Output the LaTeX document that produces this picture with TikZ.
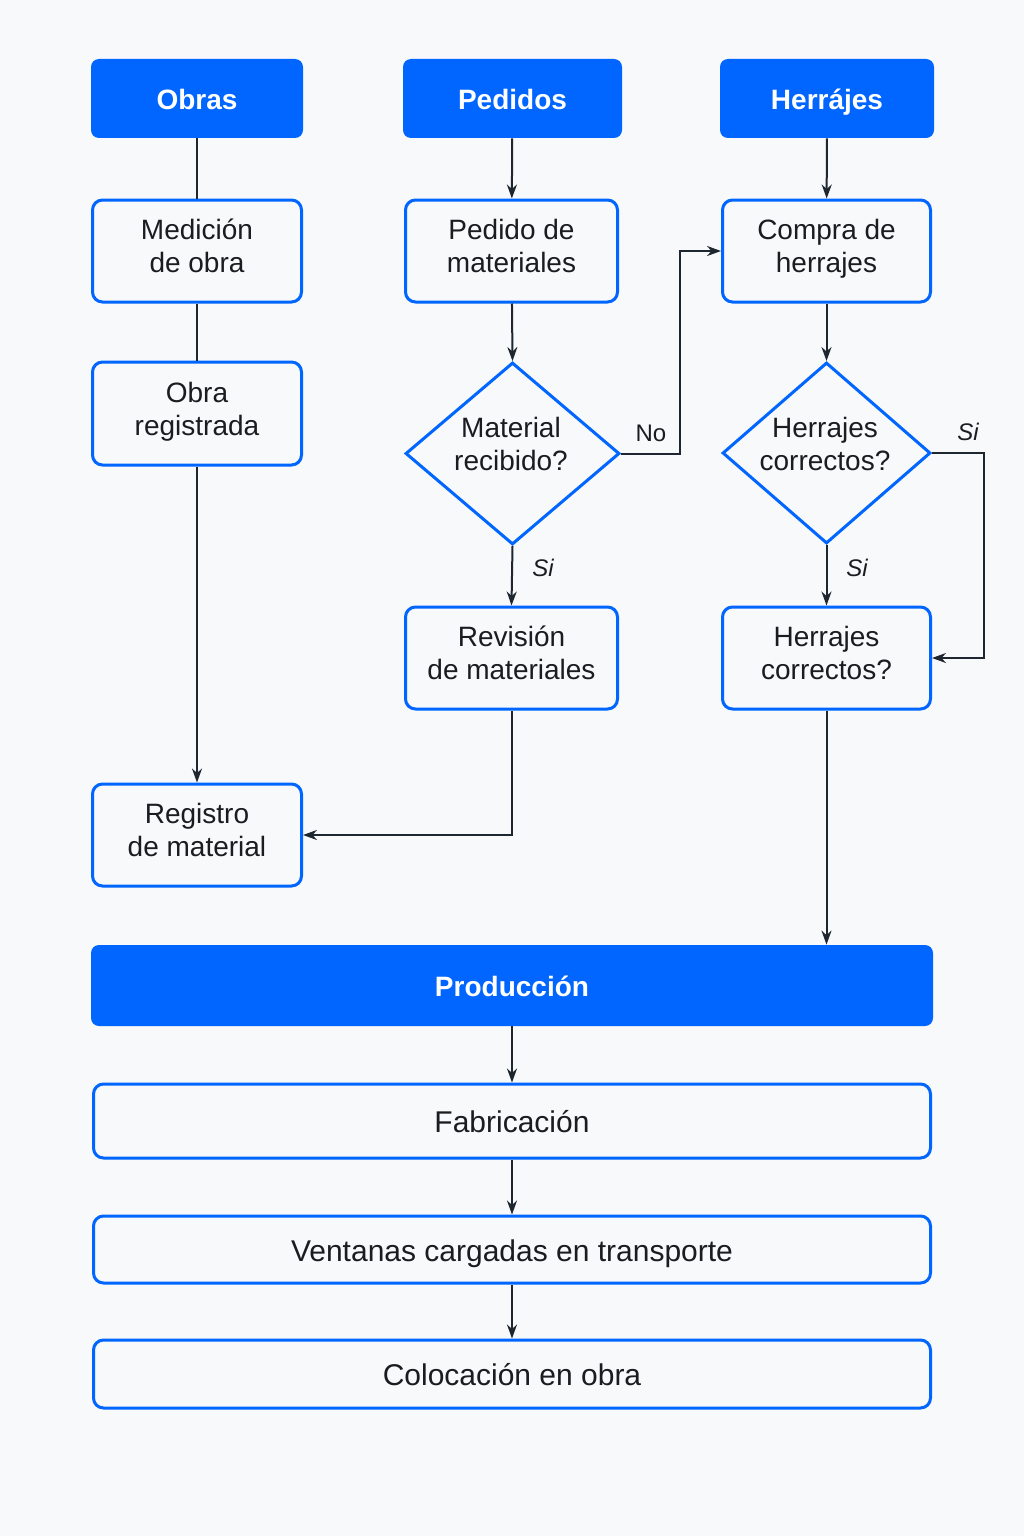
\documentclass[tikz,border=0pt]{standalone}
\usepackage{fontspec}
\setmainfont{Liberation Sans}
\usetikzlibrary{arrows.meta,shapes.geometric}
\definecolor{myblue}{RGB}{0,102,255}
\definecolor{bgc}{RGB}{248,249,250}
\definecolor{ink}{RGB}{26,28,32}
\definecolor{linec}{RGB}{30,38,48}
\newcommand{\fcstrut}[2]{\rule[-#1\baselineskip]{0pt}{#2\baselineskip}}
\tikzset{
  strutted/.style 2 args={execute at begin node=\fcstrut{#1}{#2}, execute at end node=\fcstrut{#1}{#2}},
  hdr/.style={fill=myblue, draw=none, rounded corners=4pt, text=white, inner sep=0pt,
    font=\bfseries\fontsize{14}{17}\selectfont, align=center, strutted={0.18}{1}},
  procbox/.style={draw=myblue, line width=1.5pt, fill=bgc, rounded corners=5pt, inner sep=0pt,
    text=ink, font=\fontsize{14}{16.5}\selectfont, align=center, strutted={0.3}{1.7}},
  widebox/.style={draw=myblue, line width=1.5pt, fill=bgc, rounded corners=5pt, inner sep=0pt,
    text=ink, font=\fontsize{15}{18}\selectfont, align=center, strutted={0.18}{1}},
  decbox/.style={shape=diamond, draw=myblue, line width=1.5pt, fill=bgc, inner sep=0pt},
  dectext/.style={text=ink, font=\fontsize{14}{16.5}\selectfont, align=center, inner sep=0pt, strutted={0.3}{1.7}},
  conn/.style={draw=linec, line width=1pt},
  arr/.style={conn, -{Stealth[length=7pt,width=5pt]}},
  lbl/.style={text=ink, font=\fontsize{12}{14}\selectfont, inner sep=0pt},
  ilbl/.style={lbl, font=\itshape\fontsize{12}{14}\selectfont},
}
\begin{document}
\begin{tikzpicture}[x=0.5pt,y=-0.5pt]
\fill[bgc] (0,0) rectangle (1024,1536);
\useasboundingbox (0,0) rectangle (1024,1536);

% headers
\node[hdr, minimum width=106pt, minimum height=39.5pt] (obras) at (197,98.5) {Obras};
\node[hdr, minimum width=109.5pt, minimum height=39.5pt] (pedidos) at (512.5,98.5) {Pedidos};
\node[hdr, minimum width=107pt, minimum height=39.5pt] (herr) at (827,98.5) {Herrájes};

% row boxes
\node[procbox, minimum width=104.5pt, minimum height=51pt] (medicion) at (197,251) {Medición\\de obra};
\node[procbox, minimum width=106pt, minimum height=51pt] (pedido) at (511.5,251) {Pedido de\\materiales};
\node[procbox, minimum width=104pt, minimum height=51pt] (compra) at (826.5,251) {Compra de\\herrajes};
\node[procbox, minimum width=104.5pt, minimum height=51.5pt] (obrareg) at (197,413.5) {Obra\\registrada};

% diamonds
\node[decbox, minimum width=107pt, minimum height=91pt] (d1) at (512.5,453.5) {};
\node[dectext] (d1t) at (511,449) {Material\\recibido?};
\node[decbox, minimum width=104pt, minimum height=90.5pt] (d2) at (826.5,453) {};
\node[dectext] (d2t) at (825,449) {Herrajes\\correctos?};

\node[procbox, minimum width=106pt, minimum height=51pt] (revision) at (511.5,658) {Revisión\\de materiales};
\node[procbox, minimum width=104pt, minimum height=51pt] (hbox) at (826.5,658) {Herrajes\\correctos?};
\node[procbox, minimum width=104.5pt, minimum height=51pt] (registro) at (197,835) {Registro\\de material};

% bottom
\node[hdr, minimum width=421pt, minimum height=40.5pt] (produccion) at (512,985.5) {Producción};
\node[widebox, minimum width=418.5pt, minimum height=37pt] (fabric) at (512,1121) {Fabricación};
\node[widebox, minimum width=418.5pt, minimum height=33.5pt] (ventanas) at (512,1249.5) {Ventanas cargadas en transporte};
\node[widebox, minimum width=418.5pt, minimum height=34pt] (coloc) at (512,1374) {Colocación en obra};

% connectors left column
\draw[conn] (obras) -- (medicion);
\draw[conn] (medicion) -- (obrareg);
\draw[arr] (obrareg) -- (registro);

% middle column
\draw[arr] (pedidos) -- (pedido);
\draw[arr] (pedido) -- (d1.north);
\coordinate (k1) at (680,453.5);
\draw[arr] (d1.east) -- (k1) |- (compra.west);
\node[lbl] (nolbl) at (651,433) {No};
\draw[arr] (d1.south) -- (revision.north);
\node[ilbl] (si1) at (543,568) {Si};
\draw[arr] (revision.south) |- (registro.east);

% right column
\draw[arr] (herr) -- (compra);
\draw[arr] (compra) -- (d2.north);
\draw[arr] (d2.south) -- (hbox.north);
\node[ilbl] (si2) at (857,568) {Si};
\coordinate (k2) at (984,453);
\draw[arr] (d2.east) -- (k2) |- (hbox.east);
\node[ilbl] (si3) at (968,432) {Si};
\draw[arr] (hbox.south) -- (hbox.south |- produccion.north);

% bottom chain
\draw[arr] (produccion) -- (fabric);
\draw[arr] (fabric) -- (ventanas);
\draw[arr] (ventanas) -- (coloc);
\end{tikzpicture}
\end{document}
